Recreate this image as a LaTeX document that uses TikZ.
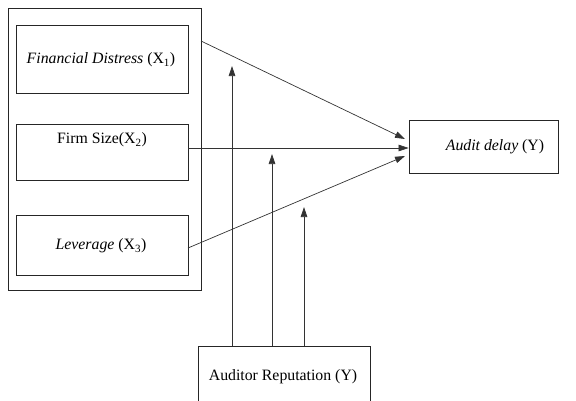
\documentclass[tikz,border=0pt]{standalone}
\usepackage{fontspec}
\setmainfont{Liberation Serif}
\usetikzlibrary{arrows.meta}
\begin{document}
\begin{tikzpicture}[x=1pt,y=-1pt,
  box/.style={draw=black!85,line width=0.8pt,minimum width=#1,inner sep=0pt},
  lbl/.style={font=\fontsize{15.8}{18}\selectfont,inner sep=0pt},
  arr/.style={draw=black!80,line width=0.7pt,-{Triangle[length=10pt,width=6.5pt]}},
  ln/.style={draw=black!80,line width=0.7pt}]
\useasboundingbox (0,0) rectangle (576,400);
% outer group box
\node[box=193pt,minimum height=282pt] (grp) at (104.5,149) {};
% inner boxes
\node[box=172pt,minimum height=68pt] (fd) at (102,59) {};
\node[lbl] (fdt) at (101,60) {\textit{Financial Distress} (X\textsubscript{1})};
\node[box=172pt,minimum height=56pt] (fs) at (102,152) {};
\node[lbl] (fst) at (102,140) {Firm Size(X\textsubscript{2})};
\node[box=172pt,minimum height=60pt] (lv) at (102,245) {};
\node[lbl] (lvt) at (101,246) {\textit{Leverage} (X\textsubscript{3})};
% outcome
\node[box=149pt,minimum height=53pt] (ad) at (483.5,146.5) {};
\node[lbl] (adt) at (495,147) {\textit{Audit delay} (Y)};
% moderator
\node[box=172pt,minimum height=60pt] (ar) at (284,376) {};
\node[lbl] (art) at (283,377) {Auditor Reputation (Y)};
% coordinates
\coordinate (s1) at (201,41);
\coordinate (e1) at (405,139);
\coordinate (s2) at (188,148);
\coordinate (e2) at (ad.west |- s2);
\coordinate (s3) at (188,248);
\coordinate (e3) at (405,156);
\coordinate (m1) at (232,66);
\coordinate (m2) at (272,154);
\coordinate (m3) at (304,207);
\draw[arr] (s1) -- (e1);
\draw[arr] (s2) -- (e2);
\draw[arr] (s3) -- (e3);
\draw[arr] (ar.north -| m1) -- (m1);
\draw[arr] (ar.north -| m2) -- (m2);
\draw[arr] (ar.north -| m3) -- (m3);
\end{tikzpicture}
\end{document}
